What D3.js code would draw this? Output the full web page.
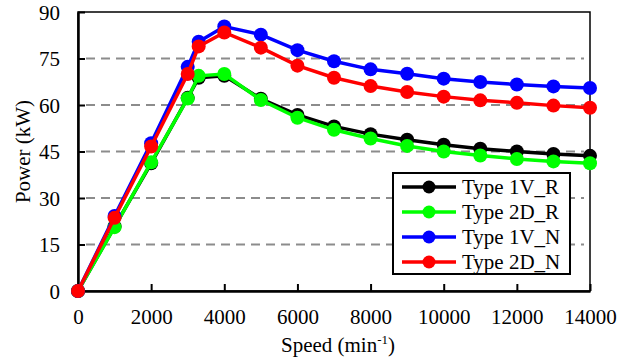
<!DOCTYPE html>
<html>
<head>
<meta charset="utf-8">
<script src="https://cdn.jsdelivr.net/npm/d3@7"></script>
<style>
  body { margin: 0; background: #fff; }
</style>
</head>
<body>
<svg width="633" height="358"></svg>
<script>
// speeds (min-1) and power (kW)
var speeds = [0, 1000, 2000, 3000, 3300, 4000, 5000, 6000, 7000, 8000, 9000, 10000, 11000, 12000, 13000, 14000];
var type1V_R = [0, 20.8, 41.2, 62.3, 68.8, 69.4, 62.0, 56.8, 53.1, 50.6, 48.8, 47.2, 45.9, 45.0, 44.2, 43.6];
var type2D_R = [0, 20.6, 41.5, 62.1, 69.4, 70.0, 61.6, 55.9, 52.0, 49.2, 46.8, 45.0, 43.7, 42.6, 41.8, 41.2];
var type1V_N = [0, 24.2, 47.7, 72.3, 80.4, 85.3, 82.7, 77.7, 74.1, 71.5, 70.1, 68.5, 67.4, 66.6, 66.0, 65.5];
var type2D_N = [0, 23.6, 46.6, 70.0, 78.9, 83.4, 78.5, 72.7, 68.8, 66.1, 64.2, 62.7, 61.5, 60.7, 59.8, 59.1];
var names = ["Type 1V_R", "Type 2D_R", "Type 1V_N", "Type 2D_N"];
var colors = ["#000000", "#00ff00", "#0000ff", "#ff0000"];
var xTicks = [0, 2000, 4000, 6000, 8000, 10000, 12000, 14000];
var yTicks = [0, 15, 30, 45, 60, 75, 90];

var fonts = ["Liberation Serif"];
function times() { this.style.fontFamily = fonts[0]; }

var series = [type1V_R, type2D_R, type1V_N, type2D_N].map(function(vals, i) {
  return {
    name: names[i],
    color: colors[i],
    values: vals.map(function(v, j) { return {speed: speeds[j], power: v}; })
  };
});

var svg = d3.select("svg"),
    margin = {top: 12, right: 43, bottom: 67, left: 78},
    width = +svg.attr("width") - margin.left - margin.right,
    height = +svg.attr("height") - margin.top - margin.bottom;

var x = d3.scaleLinear().domain([0, 14000]).range([0, width]),
    y = d3.scaleLinear().domain([0, 90]).range([height, 0]);

var g = svg.append("g")
    .attr("transform", "translate(" + margin.left + "," + margin.top + ")");

// dashed grid lines
g.selectAll(".grid")
  .data(yTicks.filter(function(d) { return d > 0 && d < 90; }))
  .enter().append("line")
    .attr("class", "grid")
    .attr("x1", 8)
    .attr("x2", width - 6)
    .attr("y1", function(d) { return y(d); })
    .attr("y2", function(d) { return y(d); })
    .attr("stroke", "#8c8c8c")
    .attr("stroke-width", 2)
    .attr("stroke-dasharray", "9,6");

// frame
g.append("rect")
    .attr("width", width)
    .attr("height", height)
    .attr("fill", "none")
    .attr("stroke", "#000")
    .attr("stroke-width", 1.5);

// axes with ticks pointing inward
var xAxis = g.append("g")
    .attr("transform", "translate(0," + height + ")")
    .call(d3.axisBottom(x).tickValues(xTicks).tickFormat(d3.format("d"))
      .tickSizeInner(-7).tickSizeOuter(0).tickPadding(18));
var yAxis = g.append("g")
    .call(d3.axisLeft(y).tickValues(yTicks).tickFormat(d3.format("d"))
      .tickSizeInner(-7).tickSizeOuter(0).tickPadding(18));

[xAxis, yAxis].forEach(function(a) {
  a.attr("font-size", 21).each(times);
  a.select(".domain").attr("stroke-width", 2.5);
  a.selectAll(".tick line").attr("stroke-width", 2);
  a.selectAll("text").attr("fill", "#000").each(times);
});
yAxis.selectAll("text").attr("dy", "0.35em");
xAxis.selectAll("text").attr("dy", "0.71em");

// axis titles
var xt = svg.append("text")
    .attr("x", margin.left + width / 2 + 4)
    .attr("y", 352)
    .attr("text-anchor", "middle")
    .attr("font-size", 21)
    .each(times);
xt.append("tspan").text("Speed (min");
xt.append("tspan").attr("font-size", 13).attr("dy", -8).text("-1");
xt.append("tspan").attr("dy", 8).text(")");

svg.append("text")
    .attr("transform", "translate(30," + (margin.top + height / 2) + ") rotate(-90)")
    .attr("text-anchor", "middle")
    .attr("font-size", 21)
    .each(times)
    .text("Power (kW)");

// lines and markers
var line = d3.line()
    .x(function(d) { return x(d.speed); })
    .y(function(d) { return y(d.power); });

var s = g.selectAll(".series")
  .data(series)
  .enter().append("g")
    .attr("class", "series");

s.append("path")
    .attr("d", function(d) { return line(d.values); })
    .attr("fill", "none")
    .attr("stroke", function(d) { return d.color; })
    .attr("stroke-width", 3.5);

s.selectAll("circle")
  .data(function(d) { return d.values.map(function(v) { return {v: v, color: d.color}; }); })
  .enter().append("circle")
    .attr("cx", function(d) { return x(d.v.speed); })
    .attr("cy", function(d) { return y(d.v.power); })
    .attr("r", 7)
    .attr("fill", function(d) { return d.color; });

// legend
var legend = svg.append("g").attr("transform", "translate(393,173)");
legend.append("rect")
    .attr("width", 177)
    .attr("height", 101)
    .attr("fill", "#fff")
    .attr("stroke", "#000")
    .attr("stroke-width", 2);

var item = legend.selectAll(".item")
  .data(series)
  .enter().append("g")
    .attr("class", "item")
    .attr("transform", function(d, i) { return "translate(0," + (14 + i * 25) + ")"; });

item.append("line")
    .attr("x1", 9).attr("x2", 63)
    .attr("stroke", function(d) { return d.color; })
    .attr("stroke-width", 3.5);
item.append("circle")
    .attr("cx", 36)
    .attr("r", 6.5)
    .attr("fill", function(d) { return d.color; });
item.append("text")
    .attr("x", 69)
    .attr("dy", "0.35em")
    .attr("font-size", 21)
    .each(times)
    .text(function(d) { return d.name; });
</script>
</body>
</html>
